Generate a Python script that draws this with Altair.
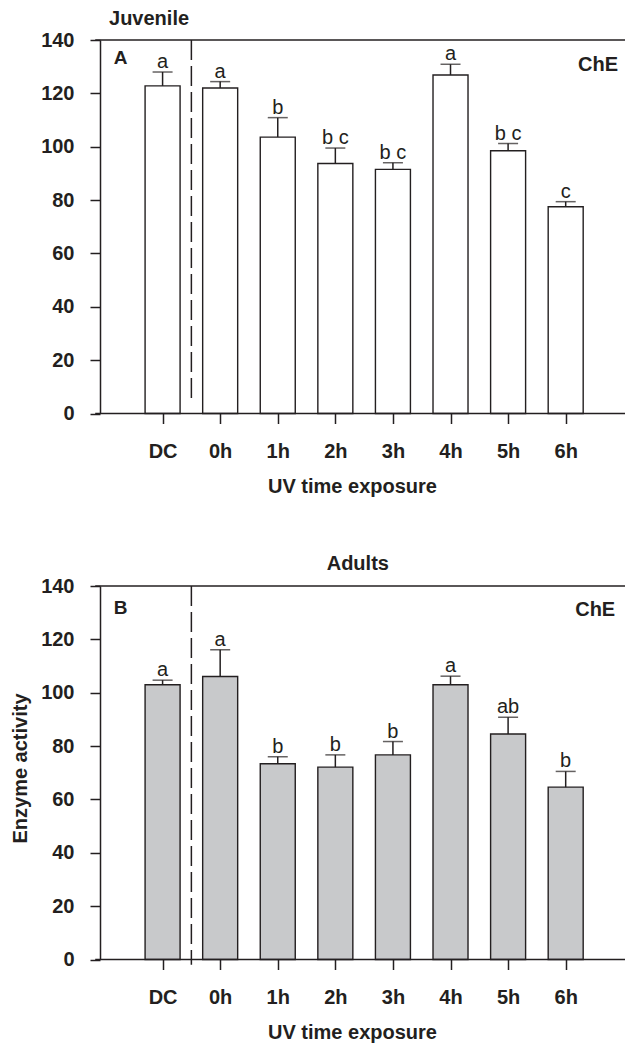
import json
import altair as alt
import pandas as pd

# ---------------- data ----------------
cats = ["DC", "0h", "1h", "2h", "3h", "4h", "5h", "6h"]

juv_mean = [122.8, 122.0, 103.6, 93.7, 91.5, 126.9, 98.5, 77.5]
juv_upper = [128.0, 124.4, 110.9, 99.5, 94.0, 130.9, 101.2, 79.4]
juv_letters = ["a", "a", "b", "b c", "b c", "a", "b c", "c"]

adu_mean = [103.0, 106.1, 73.4, 72.1, 76.7, 103.0, 84.5, 64.6]
adu_upper = [104.7, 116.1, 76.0, 76.7, 81.7, 106.2, 90.8, 70.5]
adu_letters = ["a", "a", "b", "b", "b", "a", "ab", "b"]

y_ticks = [0, 20, 40, 60, 80, 100, 120, 140]

# ---------------- styling ----------------
FONT = "Liberation Sans"
INK = "#231f20"
X_DOMAIN = [-1, 8.03]
W, H = 530, 373.5
label_expr = json.dumps(cats) + "[datum.value]"


def panel(mean, upper, letters, fill, header, header_x, header_dy, tag, tag_y,
          che_x, che_y, dash_bottom, y_title):
    df = pd.DataFrame({
        "pos": list(range(len(cats))),
        "cat": cats,
        "mean": mean,
        "upper": upper,
        "letter": letters,
    })

    x_scale = alt.Scale(domain=X_DOMAIN, nice=False, zero=False)
    y_scale = alt.Scale(domain=[0, 140], nice=False)

    x_axis = alt.Axis(
        values=list(range(len(cats))), labelExpr=label_expr,
        title="UV time exposure", titleX=252, titleY=73,
        titleAlign="center", titleBaseline="middle",
        domain=False, grid=False, tickSize=10, tickWidth=1.5, tickColor=INK,
        labelPadding=18, labelFontSize=20, labelFontWeight="bold",
        labelColor=INK, labelFont=FONT, titleFont=FONT, titleFontSize=20,
        titleFontWeight="bold", titleColor=INK,
    )
    y_axis_kwargs = dict(
        values=y_ticks, grid=False, tickSize=10, tickWidth=1.5, tickColor=INK,
        domain=True, domainColor=INK, domainWidth=1.5,
        labelPadding=16, labelFontSize=20, labelFontWeight="bold",
        labelColor=INK, labelFont=FONT,
    )
    if y_title:
        y_axis = alt.Axis(title=y_title, titleX=-80, titleY=182, titleAngle=270,
                          titleAlign="center", titleBaseline="middle",
                          titleFont=FONT, titleFontSize=20, titleFontWeight="bold",
                          titleColor=INK, **y_axis_kwargs)
    else:
        y_axis = alt.Axis(title=None, **y_axis_kwargs)

    base = alt.Chart(df)
    bars = base.mark_bar(size=35, orient="vertical", fill=fill, stroke=INK,
                         strokeWidth=1.4).encode(
        x=alt.X("pos:Q", scale=x_scale, axis=x_axis),
        y=alt.Y("mean:Q", scale=y_scale, axis=y_axis),
    )
    stems = base.mark_rule(color=INK, strokeWidth=1.5).encode(
        x="pos:Q", y="mean:Q", y2="upper:Q")
    caps = base.mark_tick(orient="horizontal", size=20, thickness=1.5,
                          color=INK).encode(x="pos:Q", y="upper:Q")
    sig = base.mark_text(font=FONT, fontSize=20, color=INK, dy=-4,
                         baseline="alphabetic", align="center").encode(
        x="pos:Q", y="upper:Q", text="letter:N")

    frame = alt.Chart(pd.DataFrame({"x": [-1.17, -1.17], "x2": [8.03, 8.03],
                                    "y": [0, 140]})).mark_rule(
        color=INK, strokeWidth=1.5).encode(x="x:Q", x2="x2:Q", y="y:Q")

    dash = alt.Chart(pd.DataFrame({"x": [0.5], "y": [140], "y2": [dash_bottom]})).mark_rule(
        color=INK, strokeWidth=1.5, strokeDash=[20, 6]).encode(
        x="x:Q", y="y:Q", y2="y2:Q")

    texts = alt.Chart(pd.DataFrame({
        "x": [header_x, -0.85, che_x],
        "y": [140, tag_y, che_y],
        "t": [header, tag, "ChE"],
    }))
    head = texts.transform_filter(alt.datum.t == header).mark_text(
        font=FONT, fontSize=20, fontWeight="bold", color=INK,
        align="left" if header == "Juvenile" else "center",
        baseline="middle", dy=header_dy).encode(x="x:Q", y="y:Q", text="t:N")
    tag_t = texts.transform_filter(alt.datum.t == tag).mark_text(
        font=FONT, fontSize=19, fontWeight="bold", color=INK, align="left",
        baseline="middle").encode(x="x:Q", y="y:Q", text="t:N")
    che = texts.transform_filter(alt.datum.t == "ChE").mark_text(
        font=FONT, fontSize=20, fontWeight="bold", color=INK, align="right",
        baseline="middle").encode(x="x:Q", y="y:Q", text="t:N")

    return alt.layer(bars, stems, caps, sig, frame, dash, head, tag_t, che).properties(
        width=W, height=H)


pa = panel(juv_mean, juv_upper, juv_letters, "white", "Juvenile", -0.93, -20.6,
           "A", 133.2, 7.91, 130.7, 4, None)
pb = panel(adu_mean, adu_upper, adu_letters, "#c8c9cb", "Adults", 3.39, -21.6,
           "B", 131.7, 7.86, 131.1, -2, "Enzyme activity")

chart = alt.vconcat(pa, pb, spacing=172, bounds="flush").properties(
    padding={"left": 10, "top": 9, "right": 0, "bottom": 5},
    background="white",
).configure_view(stroke=None)

chart.save("out.html", embed_options={"renderer": "svg", "actions": False})
